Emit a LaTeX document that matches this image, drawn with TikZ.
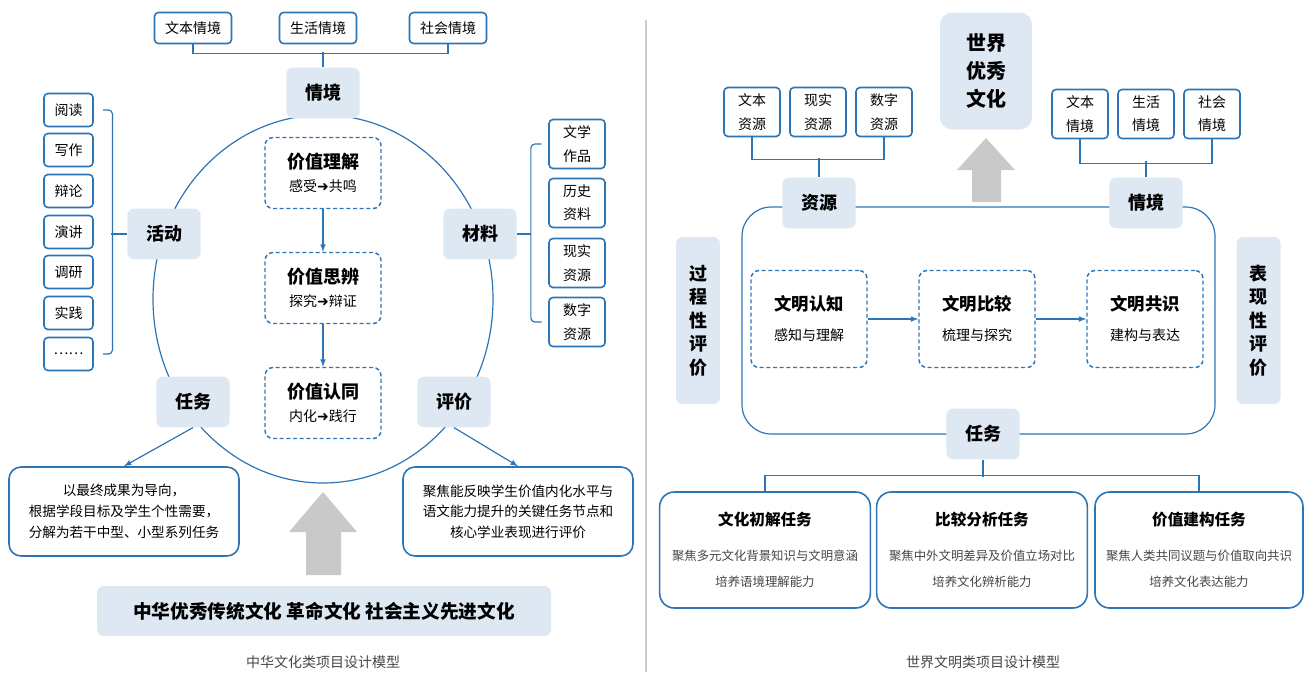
\documentclass[tikz,border=0pt]{standalone}
\usepackage{fontspec}
\setmainfont{Noto Sans CJK SC}
\newfontfamily\symfont{DejaVu Sans}
\usepackage{tikz}
\usetikzlibrary{arrows,shapes}
\definecolor{lineblue}{RGB}{46,117,182}
\definecolor{hubfill}{RGB}{221,232,243}
\definecolor{arrowgray}{RGB}{201,201,201}
\definecolor{textgray}{RGB}{70,70,70}
\newcommand{\goesto}{{\symfont ➜}}
\tikzstyle{leaf}=[draw=lineblue,line width=1.2pt,fill=white,rounded corners=3pt,inner sep=0pt,align=center,font=\fontsize{10.5}{17.5}\selectfont]
\tikzstyle{hub}=[fill=hubfill,rounded corners=5pt,inner sep=0pt,minimum width=55pt,minimum height=38pt,font=\bfseries\fontsize{13.5}{16}\selectfont]
\tikzstyle{stage}=[draw=lineblue,line width=1.1pt,dash pattern=on 3pt off 2pt,rounded corners=6pt,fill=white,inner sep=0pt,align=center]
\tikzstyle{note}=[draw=lineblue,line width=1.2pt,fill=white,rounded corners=9pt,inner sep=0pt,align=center]
\tikzstyle{edge}=[draw=lineblue,line width=0.9pt,-]
\tikzstyle{flow}=[draw=lineblue,line width=0.9pt,-latex]
\tikzstyle{caption}=[font=\fontsize{10.5}{12}\selectfont,text=textgray]

\begin{document}
\begin{tikzpicture}[x=0.75pt,y=-0.75pt]
        \useasboundingbox (0,0) rectangle (1307,672);
        \draw[gray!40,line width=0.8pt] (646,20) -- (646,672);
        % left model
        \node[draw=lineblue,line width=0.9pt,ellipse,minimum width=255pt,minimum height=276pt,inner sep=0pt] (ring) at (323,299) {};
        \node[leaf,minimum width=57.75pt,minimum height=23.25pt] (ctxtext) at (193,28) {文本情境};
        \node[leaf,minimum width=57.75pt,minimum height=23.25pt] (ctxlife) at (318,28) {生活情境};
        \node[leaf,minimum width=57.75pt,minimum height=23.25pt] (ctxsoc) at (448,28) {社会情境};
        \node[hub] (qj) at (323,93) {情境};
        \node[hub] (act) at (164,234) {活动};
        \node[hub] (mat) at (480,234) {材料};
        \node[hub] (task) at (193,402) {任务};
        \node[hub] (eval) at (454,402) {评价};
        \draw[edge] (ctxtext.south) -- ++(0,9) -| (ctxsoc.south);
        \draw[edge] (qj.north) -- ++(0,-15);
        \foreach \t/\y/\n in {阅读/110/read,写作/150/write,辩论/191/debate,演讲/232/speech,调研/272/survey,实践/313/practice,……/354/more}
          \node[leaf,minimum width=36.75pt,minimum height=24.75pt] (\n) at (68.5,\y) {\t};
        \foreach \t/\y/\n in {文学\\作品/144/lit,历史\\资料/203/hist,现实\\资源/263/real,数字\\资源/322/digi}
          \node[leaf,minimum width=42pt,minimum height=36.75pt] (\n) at (577,\y) {\t};
        \draw[edge,rounded corners=3pt] ([xshift=7pt]read.east) -| ([xshift=14pt]more.east) -- ([xshift=7pt]more.east);
        \draw[edge] (act.west) -- ++(-16,0);
        \draw[edge,rounded corners=3pt] ([xshift=-5pt]lit.west) -| ([xshift=-13pt]digi.west) -- ([xshift=-5pt]digi.west);
        \draw[edge] (mat.east) -- ++(14,0);
        \node[stage,minimum width=87pt,minimum height=53.25pt] (und) at (323,173) {{\bfseries\fontsize{13.5}{16}\selectfont 价值理解}\\[5.5pt]{\fontsize{10.5}{13}\selectfont 感受\goesto 共鸣}};
        \node[stage,minimum width=87pt,minimum height=53.25pt] (refl) at (323,288) {{\bfseries\fontsize{13.5}{16}\selectfont 价值思辨}\\[5.5pt]{\fontsize{10.5}{13}\selectfont 探究\goesto 辩证}};
        \node[stage,minimum width=87pt,minimum height=53.25pt] (iden) at (323,403) {{\bfseries\fontsize{13.5}{16}\selectfont 价值认同}\\[5.5pt]{\fontsize{10.5}{13}\selectfont 内化\goesto 践行}};
        \draw[flow] (und) -- (refl);
        \draw[flow] (refl) -- (iden);
        \node[note,minimum width=172.5pt,minimum height=66.75pt,font=\fontsize{10.2}{15.5}\selectfont] (taskdesc) at (124,511.5) {以最终成果为导向，\\根据学段目标及学生个性需要，\\分解为若干中型、小型系列任务};
        \node[note,minimum width=172.5pt,minimum height=66.75pt,font=\fontsize{10.2}{15.5}\selectfont] (evaldesc) at (518,511.5) {聚焦能反映学生价值内化水平与\\语文能力提升的关键任务节点和\\核心学业表现进行评价};
        \draw[flow] (task.south) -- (taskdesc.north);
        \draw[flow] (eval.south) -- (evaldesc.north);
        \fill[arrowgray] (306,575) -- (306,532) -- (289,532) -- (323,492) -- (357,532) -- (341,532) -- (341,575) -- cycle;
        \node[hub,minimum width=340.5pt,minimum height=37.5pt,font=\bfseries\fontsize{14}{16}\selectfont] (roots) at (324,611) {中华优秀传统文化 革命文化 社会主义先进文化};
        \node[caption] (capl) at (323,662) {中华文化类项目设计模型};
        % right model
        \draw[edge,rounded corners=22pt] (742,207) rectangle (1215,434);
        \node[hub,minimum width=69pt,minimum height=87.75pt,rounded corners=9pt,align=center,font=\bfseries\fontsize{15}{21}\selectfont] (world) at (986,71) {世界\\优秀\\文化};
        \fill[arrowgray] (972,202) -- (972,170) -- (957,170) -- (986,138) -- (1015,170) -- (1001,170) -- (1001,202) -- cycle;
        \node[leaf,minimum width=42pt,minimum height=36.75pt] (rtext) at (752,112) {文本\\资源};
        \node[leaf,minimum width=42pt,minimum height=36.75pt] (rreal) at (818,112) {现实\\资源};
        \node[leaf,minimum width=42pt,minimum height=36.75pt] (rdigi) at (884,112) {数字\\资源};
        \node[leaf,minimum width=42pt,minimum height=36.75pt] (wtext) at (1080,114) {文本\\情境};
        \node[leaf,minimum width=42pt,minimum height=36.75pt] (wlife) at (1146,114) {生活\\情境};
        \node[leaf,minimum width=42pt,minimum height=36.75pt] (wsoc) at (1212,114) {社会\\情境};
        \node[hub] (res) at (819,203) {资源};
        \node[hub] (ctx) at (1146,203) {情境};
        \draw[edge] (rtext.south) -- ++(0,22) -| (rdigi.south);
        \draw[edge] (res.north) -- ++(0,-19);
        \draw[edge] (wtext.south) -- ++(0,24) -| (wsoc.south);
        \draw[edge] (ctx.north) -- ++(0,-16);
        \node[hub,minimum width=33pt,minimum height=125.25pt,align=center,font=\bfseries\fontsize{13.5}{17.6}\selectfont] (proc) at (698,320.5) {过\\程\\性\\评\\价};
        \node[hub,minimum width=33pt,minimum height=125.25pt,align=center,font=\bfseries\fontsize{13.5}{17.6}\selectfont] (perf) at (1258.5,320.5) {表\\现\\性\\评\\价};
        \node[stage,minimum width=87pt,minimum height=72.75pt] (know) at (809,319) {{\bfseries\fontsize{13}{16}\selectfont 文明认知}\\[10.5pt]{\fontsize{10.5}{13}\selectfont 感知与理解}};
        \node[stage,minimum width=87pt,minimum height=72.75pt] (comp) at (977,319) {{\bfseries\fontsize{13}{16}\selectfont 文明比较}\\[10.5pt]{\fontsize{10.5}{13}\selectfont 梳理与探究}};
        \node[stage,minimum width=87pt,minimum height=72.75pt] (cons) at (1145,319) {{\bfseries\fontsize{13}{16}\selectfont 文明共识}\\[10.5pt]{\fontsize{10.5}{13}\selectfont 建构与表达}};
        \draw[flow] (know) -- (comp);
        \draw[flow] (comp) -- (cons);
        \node[hub] (rtask) at (983,434) {任务};
        \node[note,minimum width=158pt,minimum height=87pt,rounded corners=11pt] (first) at (765,550) {{\bfseries\fontsize{11.7}{14}\selectfont 文化初解任务}\\[14pt]{\fontsize{9.3}{21.75}\selectfont\color{textgray}聚焦多元文化背景知识与文明意涵}\\[7.5pt]{\fontsize{9.3}{21.75}\selectfont\color{textgray}培养语境理解能力}};
        \node[note,minimum width=158pt,minimum height=87pt,rounded corners=11pt] (second) at (982,550) {{\bfseries\fontsize{11.7}{14}\selectfont 比较分析任务}\\[14pt]{\fontsize{9.3}{21.75}\selectfont\color{textgray}聚焦中外文明差异及价值立场对比}\\[7.5pt]{\fontsize{9.3}{21.75}\selectfont\color{textgray}培养文化辨析能力}};
        \node[note,minimum width=156pt,minimum height=87pt,rounded corners=11pt] (third) at (1199,550) {{\bfseries\fontsize{11.7}{14}\selectfont 价值建构任务}\\[14pt]{\fontsize{9.3}{21.75}\selectfont\color{textgray}聚焦人类共同议题与价值取向共识}\\[7.5pt]{\fontsize{9.3}{21.75}\selectfont\color{textgray}培养文化表达能力}};
        \draw[edge] (first.north) -- ++(0,-16) -| (third.north);
        \draw[edge] (rtask.south) -- ++(0,17);
        \node[caption] (capr) at (983,662) {世界文明类项目设计模型};
      \end{tikzpicture}
\end{document}
